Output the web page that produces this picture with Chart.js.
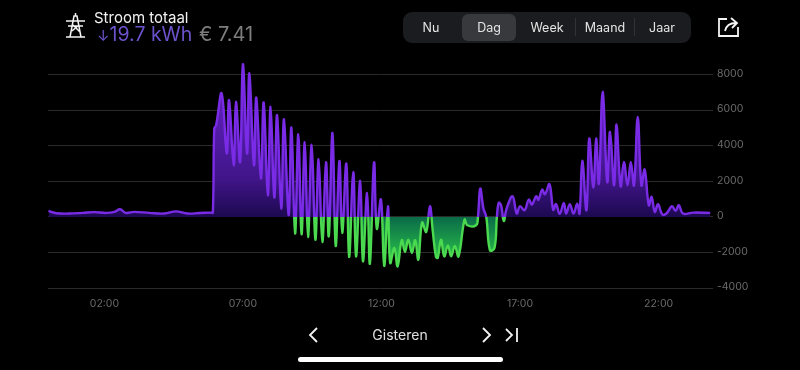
<!DOCTYPE html>
<html>
<head>
<meta charset="utf-8">
<script src="https://cdn.jsdelivr.net/npm/chart.js@4"></script>
<style>
  html, body { margin: 0; padding: 0; background: #000; }
  body { width: 800px; height: 370px; overflow: hidden; position: relative; font-family: Inter, Roboto, sans-serif; }
  #wrap { position: absolute; left: 0; top: 0; width: 800px; height: 370px; }
  .abs { position: absolute; white-space: nowrap; }
  #title { left: 94px; top: 9px; font-size: 15px; line-height: 18px; color: #f2f2f2; }
  #kwh { left: 97px; top: 23px; font-size: 19.5px; line-height: 22px; color: #6c52cc; }
  #kwh span { font-size: 15px; }
  #euro { left: 199px; top: 23px; font-size: 20px; line-height: 22px; color: #7e7e7e; }
  #pill { left: 403px; top: 12px; width: 288px; height: 31px; background: #1b1c1f; border-radius: 9px; }
  #sel { left: 462px; top: 14px; width: 54px; height: 27px; background: #37393d; border-radius: 6px; }
  .seg { top: 14px; height: 27px; line-height: 27px; width: 60px; text-align: center; font-size: 12.5px; color: #e4e4e4; }
  .div { top: 18px; width: 1px; height: 18px; background: #333; }
  #gist { left: 340px; width: 120px; top: 326px; text-align: center; font-size: 14px; line-height: 18px; color: #e0e0e0; }
  #bar { left: 298px; top: 357px; width: 205px; height: 5px; border-radius: 3px; background: #fff; }
</style>
</head>
<body>
<div id="wrap"><canvas id="chart_stroom"></canvas></div>

<svg class="abs" style="left:0;top:0" width="800" height="370" fill="none" stroke="#f4f4f4" stroke-width="1.5">
  <path d="M66 37H85M70 37L74 16H77L81 37M66 21H85M68 26H83M72 31L79 25M73 25L80 32M75.5 16V13"/>
  <path d="M727 19H719V36H738V27M725 31C726 26 730 23 736 23M731 18L737 23L732 28" stroke-width="1.8"/>
  <path d="M317 328L310 335L317 342M483 328L490 335L483 342M506 329L512 335L506 341M517 328V342" stroke-width="1.8"/>
</svg>

<div class="abs" id="title">Stroom totaal</div>
<div class="abs" id="kwh"><span>↓</span>19.7 kWh</div>
<div class="abs" id="euro">€ 7.41</div>
<div class="abs" id="pill"></div>
<div class="abs" id="sel"></div>
<div class="abs seg" style="left:401px">Nu</div>
<div class="abs seg" style="left:459px">Dag</div>
<div class="abs seg" style="left:517px">Week</div>
<div class="abs div" style="left:575px"></div>
<div class="abs seg" style="left:575px">Maand</div>
<div class="abs div" style="left:634px"></div>
<div class="abs seg" style="left:632px">Jaar</div>
<div class="abs" id="gist">Gisteren</div>
<div class="abs" id="bar"></div>

<script>
// minutes since midnight
var minutes = [
  1, 18, 46, 75, 100, 126, 144, 156, 168, 187, 220, 252, 277, 302, 328, 353, 357,
  360, 364, 376, 387, 392, 402, 407, 416, 422, 431, 436, 446, 451, 461, 467, 476, 482, 490, 496, 505,
  511, 521, 527, 535, 542, 549, 556, 563, 571, 579, 586, 594, 602, 608, 616, 623, 631, 637, 646, 652,
  661, 667, 676, 682, 691, 697, 706, 712, 721, 728, 736, 741, 750, 757, 766, 773, 780, 788, 795, 802,
  810, 819, 827, 833, 840, 844, 851, 858, 866, 873, 881, 889, 902, 908, 927, 931, 936, 943, 949, 957,
  967, 972, 976, 981, 987, 993, 1006, 1015, 1022, 1032, 1041, 1048, 1057, 1062, 1070, 1076, 1086, 1094,
  1100, 1108, 1117, 1122, 1130, 1138, 1146, 1151, 1157, 1166, 1172, 1181, 1187, 1193, 1201, 1211, 1217,
  1226, 1231, 1240, 1247, 1255, 1262, 1269, 1277, 1285, 1292, 1301, 1307, 1314, 1321, 1330, 1339, 1351,
  1359, 1366, 1375, 1397, 1434
];
var watts = [
  340, 210, 190, 230, 270, 225, 280, 430, 230, 285, 225, 190, 310, 190, 220, 240, 240,
  4970, 5160, 6950, 3570, 6570, 2910, 6480, 3100, 8600, 3570, 8080, 2910, 6720, 2160, 6440, 1220, 6200, 1090, 5730, 470,
  5500, 100, 5030, -940, 4660, -980, 4200, -1130, 4060, -1280, 3250, -1410, 3080, -1090, 4730, -1630, 3150, -900, 3000, -2250,
  2535, -2220, 2030, -2500, 1350, -2630, 3060, -660, 980, -2760, 600, -2590, -1750, -2780, -1310, -1970, -1280, -2030, -1310, -2400,
  -320, -845, 600, -750, -2250, -2300, -1280, -2220, -1600, -2220, -1630, -2220, -150, -470, -470, 0, 1600, 470, 0, -1880,
  -1730, 0, 790, 660, -225, 470, 1160, 190, 600, 375, 976, 695, 1160, 976, 1540, 1280, 1840, 400,
  720, 170, 790, 190, 714, 190, 750, 190, 3155, 375, 4410, 1650, 4410, 1880, 7040, 1970, 4790,
  1780, 5200, 1730, 3100, 1780, 3100, 1780, 5630, 1780, 2670, 657, 1127, 280, 714, 150, 190, 600,
  340, 657, 190, 244, 225
];
var xTickMinutes = [120, 420, 720, 1020, 1320];
var xTickLabels = ['02:00', '07:00', '12:00', '17:00', '22:00'];
var yTicks = [-4000, -2000, 0, 2000, 4000, 6000, 8000];

var purple = '#7a2be6';
var green = '#4ad94f';

var points = minutes.map(function(m, i) { return { x: m, y: watts[i] }; });

// colours depend on where zero ends up, so build them after the layout
var zeroColors = {
  id: 'zeroColors',
  afterLayout: function(chart) {
    var ctx = chart.ctx, y = chart.scales.y, area = chart.chartArea;
    var zero = y.getPixelForValue(0);
    var stop = (zero - area.top) / (area.bottom - area.top);

    var line = ctx.createLinearGradient(0, area.top, 0, area.bottom);
    line.addColorStop(0, purple);
    line.addColorStop(stop, purple);
    line.addColorStop(stop, green);
    line.addColorStop(1, green);

    var above = ctx.createLinearGradient(0, y.getPixelForValue(6000), 0, zero);
    above.addColorStop(0, '#5a1eb4');
    above.addColorStop(0.65, '#401588');
    above.addColorStop(1, '#1c0950');

    var below = ctx.createLinearGradient(0, zero, 0, y.getPixelForValue(-2800));
    below.addColorStop(0, '#0a6a48');
    below.addColorStop(1, '#2fd04a');

    var ds = chart.data.datasets[0];
    ds.borderColor = line;
    ds.fill = { target: { value: 0 }, above: above, below: below };
  }
};

var chart_stroom = new Chart(document.getElementById('chart_stroom'), {
  type: 'line',
  data: {
    datasets: [{
      label: 'Stroom totaal',
      data: points,
      borderColor: purple,
      borderWidth: 2.4,
      pointRadius: 0,
      tension: 0.4,
      fill: { target: { value: 0 }, above: purple, below: green }
    }]
  },
  options: {
    animation: false,
    responsive: true,
    maintainAspectRatio: false,
    layout: { padding: { left: 48, top: 57, right: 0, bottom: 0 } },
    plugins: {
      legend: { display: false },
      tooltip: { enabled: false }
    },
    scales: {
      x: {
        type: 'linear',
        min: 0,
        max: 1440,
        grid: { display: false, drawTicks: false },
        border: { display: false },
        afterBuildTicks: function(scale) {
          scale.ticks = xTickMinutes.map(function(v) { return { value: v }; });
        },
        afterFit: function(scale) { scale.height = 82; },
        ticks: {
          maxRotation: 0,
          padding: 10,
          labelOffset: 1,
          color: '#6a6a6a',
          font: { family: 'Inter', size: 10.5 },
          callback: function(value) { return xTickLabels[xTickMinutes.indexOf(value)]; }
        }
      },
      y: {
        type: 'linear',
        position: 'right',
        min: -4000,
        max: 9000,
        grid: { color: '#2a2a2a', lineWidth: 1, drawTicks: false },
        border: { display: false },
        afterBuildTicks: function(scale) {
          scale.ticks = yTicks.map(function(v) { return { value: v }; });
        },
        afterFit: function(scale) { scale.width = 87; },
        ticks: {
          padding: 4,
          labelOffset: -1,
          color: '#6a6a6a',
          font: { family: 'Inter', size: 10.5 },
          callback: function(value) { return String(value); }
        }
      }
    }
  },
  plugins: [zeroColors]
});
</script>
</body>
</html>
